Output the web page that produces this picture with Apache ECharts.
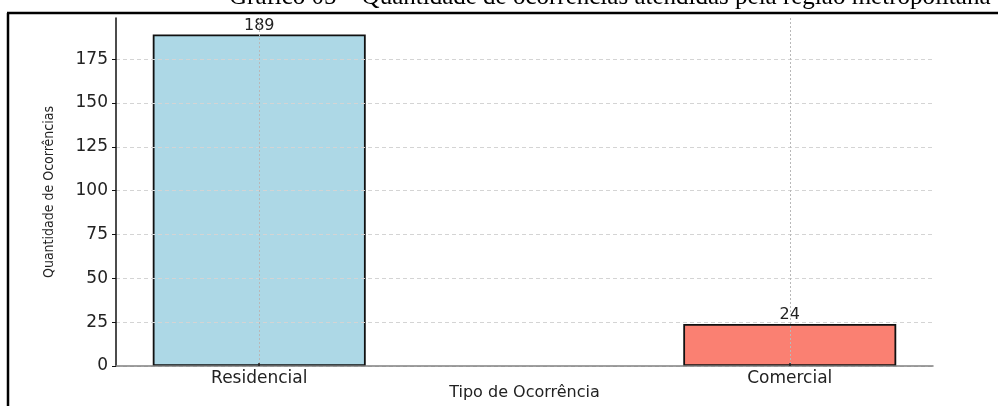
<!DOCTYPE html>
<html>
<head>
<meta charset="utf-8">
<script src="https://cdn.jsdelivr.net/npm/echarts@6/dist/echarts.min.js"></script>
<style>
html,body{margin:0;padding:0;background:#fff;}
#chart{width:998px;height:406px;}
</style>
</head>
<body>
<div id="chart"></div>
<script>
const titleText = 'Gráfico 05 – Quantidade de ocorrências atendidas pela região metropolitana';
const categories = ['Residencial', 'Comercial'];
const values = [189, 24];
const barColors = ['#add8e6', '#fa8072'];
const yTicks = [0, 25, 50, 75, 100, 125, 150, 175];
const xAxisName = 'Tipo de Ocorrência';
const yAxisName = 'Quantidade de Ocorrências';

const catPositions = categories.map((c, i) => i);
const chart = echarts.init(document.getElementById('chart'), null, {renderer: 'canvas'});
const font = 'DejaVu Sans';

chart.setOption({
  animation: false,
  backgroundColor: '#fff',
  graphic: [
    {type: 'text', left: 229, top: -15, style: {text: titleText, font: '25px "Liberation Serif"', fill: '#000'}, z: 10},
    {type: 'line', shape: {x1: 7, y1: 13, x2: 998, y2: 13}, style: {stroke: '#000', lineWidth: 2.5}, z: 10},
    {type: 'line', shape: {x1: 8, y1: 13, x2: 8, y2: 406}, style: {stroke: '#000', lineWidth: 2.5}, z: 10}
  ],
  grid: {left: 116, right: 65, top: 18, bottom: 40, containLabel: false, outerBoundsMode: 'none'},
  xAxis: {
    type: 'value',
    min: -0.27,
    max: 1.27,
    z: 5,
    name: xAxisName,
    nameLocation: 'middle',
    nameGap: 19,
    nameMoveOverlap: false,
    nameTextStyle: {fontFamily: font, fontSize: 16, color: '#222'},
    axisLine: {show: true, onZero: false, lineStyle: {color: '#808080', width: 1.5}},
    axisTick: {show: true, inside: true, length: 3, customValues: catPositions, lineStyle: {color: '#222', width: 1.5}},
    axisLabel: {
      customValues: catPositions,
      margin: 4,
      fontFamily: font, fontSize: 17, color: '#222',
      formatter: v => categories[Math.round(v)] || ''
    },
    splitLine: {show: true, lineStyle: {color: '#b8b8b8', type: [2, 2], width: 1}}
  },
  yAxis: {
    type: 'value',
    min: 0,
    max: 198.45,
    z: 5,
    name: yAxisName,
    nameLocation: 'middle',
    nameGap: 60,
    nameMoveOverlap: false,
    nameRotate: 90,
    nameTextStyle: {fontFamily: 'DejaVu Sans Condensed', fontSize: 14, color: '#222'},
    axisLine: {show: true, onZero: false, lineStyle: {color: '#111', width: 1.5}},
    axisTick: {show: true, length: 4, customValues: yTicks, lineStyle: {color: '#111', width: 1}},
    axisLabel: {customValues: yTicks, margin: 8, fontFamily: font, fontSize: 17, color: '#222'},
    splitLine: {show: true, lineStyle: {color: '#d4d4d4', type: [4, 3], width: 1}}
  },
  series: [{
    type: 'bar',
    barWidth: 213,
    z: 2,
    data: values.map((v, i) => ({value: [catPositions[i], v], itemStyle: {color: barColors[i]}})),
    itemStyle: {borderColor: '#111', borderWidth: 1.8},
    label: {show: true, position: 'top', distance: 1, fontFamily: font, fontSize: 16, color: '#222',
      formatter: p => String(p.value[1])}
  }]
});
</script>
</body>
</html>
